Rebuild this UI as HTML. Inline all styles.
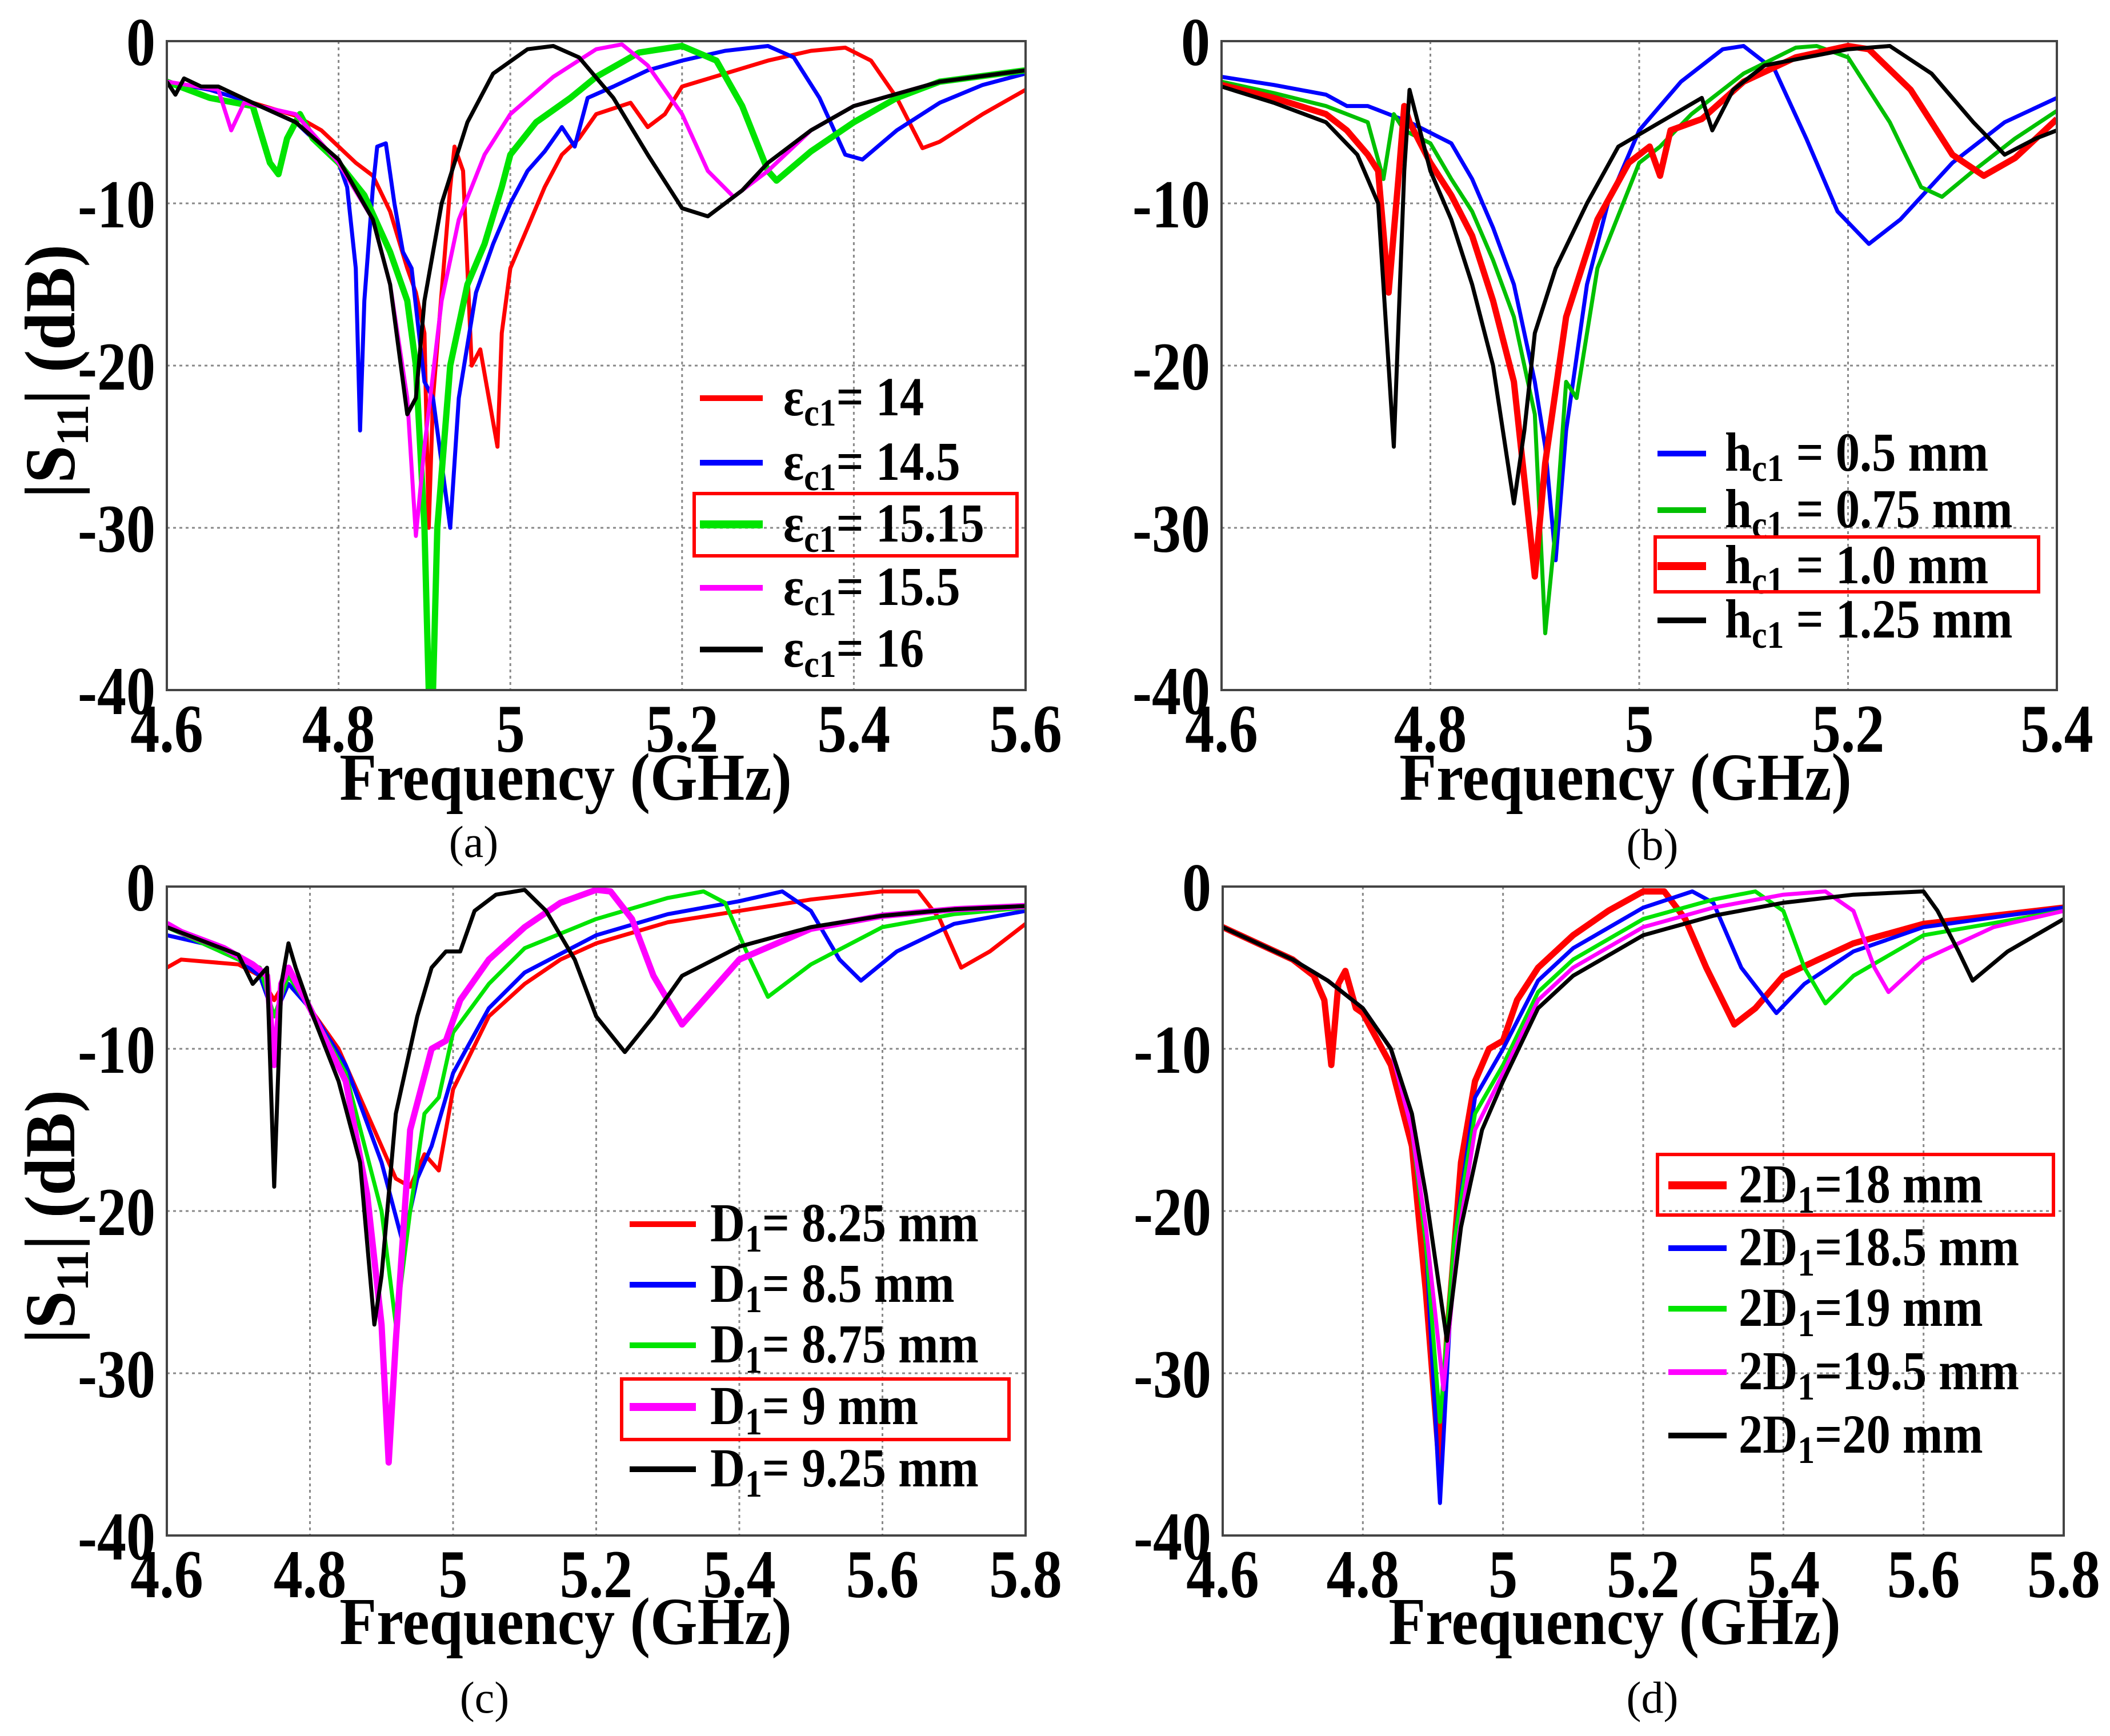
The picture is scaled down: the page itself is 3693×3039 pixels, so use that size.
<!DOCTYPE html>
<html><head><meta charset="utf-8"><title>S11 parametric study</title>
<style>
html,body{margin:0;padding:0;background:#fff;}
svg{display:block;font-family:"Liberation Serif",serif;}
</style></head>
<body>
<svg id="fig" xmlns="http://www.w3.org/2000/svg" width="3693" height="3039" viewBox="0 0 3693 3039"></svg>
<script>
// ---------- DATA ----------
// Panel (a)
const a1_f=[4.6,4.65,4.7,4.75,4.78,4.8,4.82,4.84,4.86,4.88,4.89,4.9,4.905,4.91,4.93,4.935,4.945,4.955,4.965,4.975,4.985,4.99,5.0,5.02,5.04,5.06,5.08,5.1,5.14,5.16,5.18,5.2,5.25,5.3,5.35,5.39,5.42,5.45,5.48,5.5,5.55,5.6];
const a1_v=[-2.5,-3,-3.8,-4.6,-5.5,-6.5,-7.5,-8.3,-10.5,-14,-15.5,-18,-30,-22,-9,-6.5,-8,-20,-19,-22,-25,-18,-14,-11.5,-9,-7,-6,-4.5,-3.8,-5.3,-4.5,-2.8,-2,-1.2,-0.6,-0.4,-1.2,-3.5,-6.6,-6.2,-4.5,-3];
const a2_f=[4.6,4.65,4.7,4.75,4.8,4.81,4.82,4.825,4.83,4.84,4.845,4.855,4.865,4.875,4.885,4.9,4.91,4.93,4.94,4.96,4.98,5.0,5.02,5.04,5.06,5.075,5.09,5.12,5.16,5.2,5.25,5.3,5.33,5.36,5.39,5.41,5.45,5.5,5.55,5.6];
const a2_v=[-2.5,-3,-3.8,-5,-7.5,-9,-14,-24,-16,-9,-6.5,-6.3,-10,-13,-14,-21,-22,-30,-22,-15.5,-12.5,-10,-8,-6.8,-5.3,-6.5,-3.5,-2.8,-1.8,-1.2,-0.6,-0.3,-1,-3.5,-7,-7.3,-5.5,-3.8,-2.7,-2];
const a3_f=[4.6,4.65,4.7,4.72,4.73,4.74,4.755,4.77,4.8,4.83,4.86,4.88,4.89,4.9,4.905,4.91,4.915,4.93,4.95,4.97,4.99,5.0,5.03,5.07,5.1,5.15,5.2,5.24,5.27,5.3,5.31,5.35,5.4,5.45,5.5,5.6];
const a3_v=[-2.5,-3.5,-4,-7.5,-8.2,-6,-4.5,-6,-7.5,-9.5,-13,-16,-20,-30,-40,-40,-30,-20,-15,-12.5,-9,-7,-5,-3.5,-2.2,-0.7,-0.3,-1.2,-4,-8,-8.6,-6.8,-5,-3.5,-2.5,-1.8];
const a4_f=[4.6,4.66,4.675,4.69,4.75,4.8,4.84,4.86,4.88,4.89,4.9,4.92,4.94,4.97,5.0,5.05,5.1,5.13,5.16,5.2,5.23,5.26,5.3,5.35,5.4,5.5,5.6];
const a4_v=[-2.5,-3,-5.5,-3.8,-4.5,-7.5,-11,-15,-22,-30.5,-25,-16,-11,-7,-4.5,-2.2,-0.5,-0.2,-1.5,-4.5,-8,-9.6,-8,-5.5,-4,-2.5,-1.8];
const a5_f=[4.6,4.61,4.62,4.64,4.66,4.7,4.75,4.8,4.84,4.86,4.88,4.89,4.9,4.92,4.95,4.98,5.02,5.05,5.08,5.12,5.16,5.2,5.23,5.27,5.3,5.35,5.4,5.5,5.6];
const a5_v=[-2.5,-3.3,-2.3,-2.8,-2.8,-3.8,-5,-7.3,-11,-15,-23,-22,-16,-10,-5,-2,-0.5,-0.3,-1,-3.5,-7,-10.3,-10.8,-9.2,-7.5,-5.5,-4,-2.5,-1.8];
// Panel (b)
const b1_f=[4.6,4.65,4.7,4.72,4.74,4.78,4.82,4.84,4.86,4.88,4.89,4.9,4.91,4.92,4.93,4.95,4.97,5.0,5.04,5.08,5.1,5.13,5.16,5.19,5.22,5.25,5.3,5.35,5.4];
const b1_v=[-2.2,-2.7,-3.3,-4,-4,-5,-6.3,-8.5,-11.5,-15,-18,-21,-25,-32,-24,-15,-10,-5.5,-2.5,-0.5,-0.3,-1.8,-6,-10.5,-12.5,-11,-7.5,-5,-3.5];
const b2_f=[4.6,4.65,4.7,4.74,4.755,4.765,4.775,4.8,4.82,4.84,4.86,4.88,4.9,4.91,4.92,4.93,4.94,4.96,5.0,5.02,5.05,5.1,5.15,5.17,5.2,5.24,5.27,5.29,5.32,5.36,5.4];
const b2_v=[-2.5,-3.2,-4,-5,-8.5,-4.5,-5.5,-6.3,-8.5,-10.5,-13.5,-17,-23,-36.5,-30,-21,-22,-14,-7.5,-6.5,-4.5,-2,-0.4,-0.3,-1,-5,-9,-9.6,-8,-6,-4.3];
const b3_f=[4.6,4.65,4.7,4.72,4.74,4.75,4.76,4.77,4.775,4.78,4.8,4.82,4.84,4.86,4.88,4.9,4.91,4.93,4.96,4.99,5.01,5.02,5.03,5.06,5.1,5.15,5.2,5.22,5.26,5.3,5.33,5.36,5.4];
const b3_v=[-2.7,-3.5,-4.5,-5.5,-7,-8,-15.5,-8,-4,-5,-7.5,-9.5,-12,-16,-21,-33,-26,-17,-11,-7.5,-6.5,-8.3,-5.5,-4.8,-2.5,-1,-0.3,-0.5,-3,-7,-8.3,-7.2,-4.8];
const b4_f=[4.6,4.65,4.7,4.73,4.75,4.765,4.775,4.78,4.79,4.8,4.82,4.84,4.86,4.88,4.89,4.9,4.92,4.95,4.98,5.02,5.06,5.07,5.09,5.12,5.2,5.24,5.28,5.32,5.35,5.38,5.4];
const b4_v=[-2.8,-3.8,-5,-7,-10,-25,-8,-3,-5.5,-8,-11,-15,-20,-28.5,-24,-18,-14,-10,-6.5,-5,-3.5,-5.5,-3,-1.5,-0.5,-0.3,-2,-5,-7,-6,-5.5];
// Panel (c)
const c1_f=[4.6,4.62,4.7,4.73,4.75,4.77,4.8,4.84,4.88,4.92,4.94,4.96,4.98,5.0,5.05,5.1,5.15,5.2,5.3,5.4,5.5,5.6,5.65,5.68,5.71,5.75,5.8];
const c1_v=[-5,-4.5,-4.8,-5.5,-7,-5.5,-7.5,-10,-14,-18,-18.5,-16.5,-17.5,-12.5,-8,-6,-4.5,-3.5,-2.2,-1.5,-0.8,-0.3,-0.3,-2,-5,-4,-2.3];
const c2_f=[4.6,4.65,4.7,4.73,4.75,4.77,4.8,4.85,4.9,4.93,4.95,4.97,5.0,5.05,5.1,5.2,5.3,5.4,5.46,5.5,5.54,5.57,5.62,5.7,5.8];
const c2_v=[-3,-3.5,-4.5,-5.5,-8,-6,-7.5,-11,-17,-22,-18,-16,-11.5,-7.5,-5.3,-3,-1.7,-0.9,-0.3,-1.5,-4.5,-5.8,-4,-2.3,-1.5];
const c3_f=[4.6,4.7,4.73,4.75,4.77,4.8,4.85,4.9,4.92,4.94,4.96,4.98,5.0,5.05,5.1,5.2,5.3,5.35,5.38,5.41,5.44,5.5,5.6,5.7,5.8];
const c3_v=[-2.5,-4.5,-5,-8,-5.5,-7.5,-11.5,-20,-27,-20,-14,-13,-9,-6,-3.8,-2,-0.7,-0.3,-1,-4,-6.8,-4.8,-2.5,-1.7,-1.3];
const c4_f=[4.6,4.62,4.68,4.72,4.74,4.75,4.76,4.77,4.8,4.85,4.88,4.9,4.91,4.92,4.94,4.97,4.99,5.01,5.05,5.1,5.15,5.2,5.22,5.25,5.28,5.32,5.36,5.4,5.5,5.6,5.7,5.8];
const c4_v=[-2.3,-2.8,-3.8,-4.8,-5.5,-11,-6,-5,-7.5,-12,-19,-27,-35.5,-28,-15,-10,-9.5,-7,-4.5,-2.5,-1,-0.2,-0.3,-2,-5.5,-8.5,-6.5,-4.5,-2.6,-1.8,-1.4,-1.2];
const c5_f=[4.6,4.7,4.72,4.74,4.75,4.76,4.77,4.78,4.8,4.84,4.87,4.89,4.9,4.92,4.95,4.97,4.99,5.01,5.03,5.06,5.1,5.13,5.17,5.2,5.24,5.28,5.32,5.4,5.5,5.6,5.7,5.8];
const c5_v=[-2.5,-4.2,-6,-5,-18.5,-6,-3.5,-5,-7.5,-12,-17,-27,-24,-14,-8,-5,-4,-4,-1.5,-0.5,-0.2,-1.5,-4.5,-8,-10.2,-8,-5.5,-3.7,-2.5,-1.8,-1.4,-1.2];
// Panel (d)
const d1_f=[4.6,4.65,4.7,4.73,4.745,4.755,4.765,4.775,4.79,4.8,4.84,4.87,4.89,4.91,4.92,4.94,4.96,4.98,5.0,5.02,5.05,5.1,5.15,5.2,5.23,5.26,5.29,5.33,5.36,5.4,5.5,5.6,5.8];
const d1_v=[-2.5,-3.5,-4.5,-5.5,-7,-11,-6,-5.2,-7.5,-7.8,-11,-16,-25,-36,-28,-17,-12,-10,-9.5,-7,-5,-3,-1.5,-0.3,-0.3,-2,-5,-8.5,-7.5,-5.5,-3.5,-2.3,-1.3];
const d2_f=[4.6,4.65,4.7,4.75,4.8,4.84,4.87,4.89,4.91,4.93,4.96,5.0,5.05,5.1,5.2,5.27,5.3,5.34,5.39,5.43,5.5,5.6,5.8];
const d2_v=[-2.5,-3.5,-4.5,-5.8,-7.5,-10,-15,-22,-38,-22,-13,-10,-5.8,-3.8,-1.3,-0.3,-1,-5,-7.8,-6,-4,-2.5,-1.3];
const d3_f=[4.6,4.65,4.7,4.75,4.8,4.84,4.87,4.89,4.91,4.93,4.96,5.0,5.05,5.1,5.2,5.3,5.36,5.4,5.43,5.46,5.5,5.6,5.8];
const d3_v=[-2.5,-3.5,-4.5,-5.8,-7.5,-10,-15,-22,-33,-22,-14,-11,-6.5,-4.5,-2,-0.8,-0.3,-1.5,-5,-7.2,-5.5,-3,-1.5];
const d4_f=[4.6,4.65,4.7,4.75,4.8,4.84,4.87,4.89,4.915,4.935,4.96,5.0,5.05,5.1,5.2,5.3,5.4,5.46,5.5,5.53,5.55,5.6,5.7,5.8];
const d4_v=[-2.5,-3.5,-4.5,-5.8,-7.5,-10,-15,-21,-31,-22,-15,-11.5,-7,-5,-2.5,-1.3,-0.5,-0.3,-1.5,-5,-6.5,-4.5,-2.5,-1.5];
const d5_f=[4.6,4.65,4.7,4.75,4.8,4.84,4.87,4.89,4.92,4.94,4.97,5.0,5.05,5.1,5.2,5.3,5.4,5.5,5.6,5.62,5.65,5.67,5.72,5.8];
const d5_v=[-2.5,-3.5,-4.5,-5.8,-7.5,-10,-14,-19,-28,-21,-15,-12,-7.5,-5.5,-3,-1.8,-1,-0.5,-0.3,-1.5,-4,-5.8,-4,-2];
// ticks
const yTicks=[0,-10,-20,-30,-40];
const xTicksA=[4.6,4.8,5,5.2,5.4,5.6];
const xTicksB=[4.6,4.8,5,5.2,5.4];
const xTicksC=[4.6,4.8,5,5.2,5.4,5.6,5.8];
const xTicksD=[4.6,4.8,5,5.2,5.4,5.6,5.8];

// ---------- DRAW ----------
const NS='http://www.w3.org/2000/svg';
const svg=document.getElementById('fig');
function mk(tag,attrs,parent){const e=document.createElementNS(NS,tag);for(const k in attrs)e.setAttribute(k,attrs[k]);(parent||svg).appendChild(e);return e;}
function txt(parent,x,y,sx,attrs){attrs.transform='translate('+x+','+y+') scale('+sx+',1)';attrs.x=0;attrs.y=0;return mk('text',attrs,parent);}

function panel(p){
  const g=mk('g',{});
  
  
  const xs=v=>p.L+(v-p.x0)/(p.x1-p.x0)*(p.R-p.L);
  const ys=v=>p.T+(0-v)/40*(p.B-p.T);
  p.xt.forEach(t=>{
    const l=mk('line',{x1:xs(t),x2:xs(t),y1:p.T,y2:p.B,stroke:'#888','stroke-width':3,'stroke-dasharray':'5 6'},g);
    
    
    const tx=txt(g,xs(t),p.B+108,0.85,{'text-anchor':'middle','font-size':120,'font-weight':'bold',fill:'#000'});
    tx.textContent=String(t);
    
    
  });
  yTicks.forEach(t=>{
    const l=mk('line',{x1:p.L,x2:p.R,y1:ys(t),y2:ys(t),stroke:'#888','stroke-width':3,'stroke-dasharray':'5 6'},g);
    
    
    const tx=txt(g,p.L-20,ys(t)+42,0.85,{'text-anchor':'end','font-size':120,'font-weight':'bold',fill:'#000'});
    tx.textContent=String(t);
    
    
  });
  const cid='clip'+p.id;
  const cp=mk('clipPath',{id:cid},g);
  mk('rect',{x:p.L,y:p.T-10,width:p.R-p.L,height:p.B-p.T+10},cp);
  const sg=mk('g',{'clip-path':'url(#'+cid+')'},g);
  p.series.forEach(s=>{
    const d=s.f.map((f,i)=>(i?'L':'M')+xs(f).toFixed(1)+' '+ys(s.v[i]).toFixed(1)).join(' ');
    const path=mk('path',{d:d,fill:'none',stroke:s.c,'stroke-width':s.w,'stroke-linejoin':'round'},sg);
    
    
  });
  const fr=mk('rect',{x:p.L,y:p.T,width:p.R-p.L,height:p.B-p.T,fill:'none',stroke:'#444','stroke-width':4},g);
  
  
  const xt=txt(g,p.xtx,p.xty,0.9,{'text-anchor':'middle','font-size':118,'font-weight':'bold',fill:'#000'});
  xt.textContent='Frequency (GHz)';
  
  
  const yt=mk('text',{x:0,y:0,transform:'translate(130,'+((p.T+p.B)/2+10)+') rotate(-90) scale(0.95,1)','text-anchor':'middle','font-size':125,'font-weight':'bold',fill:'#000'},g);
  yt.innerHTML='|S<tspan font-size="80" dy="24">11</tspan><tspan dy="-24">| (dB)</tspan>';
  
  
  const cap=mk('text',{x:p.capx,y:p.capy,'text-anchor':'middle','font-size':78,fill:'#000'},g);
  cap.textContent='('+p.id+')';
  
  
  p.series.forEach((s,i)=>{
    const y=p.legY[i];
    const ln=mk('line',{x1:p.legX1,x2:p.legX2,y1:y,y2:y,stroke:s.c,'stroke-width':s.w+3},g);
    
    
    const t=txt(g,p.legT,y+30,0.88,{'font-size':96,'font-weight':'bold',fill:'#000'});
    t.innerHTML=s.label;
    
    
  });
  const bx=mk('rect',{x:p.box[0],y:p.box[1],width:p.box[2]-p.box[0],height:p.box[3]-p.box[1],fill:'none',stroke:'#ff0000','stroke-width':6},g);
  
  
}
const R='#ff0000',B='#0000ff',G='#00e400',M='#ff00ff',K='#000000';
const sub=(a,b)=>a+'<tspan font-size="68" dy="18">'+b+'</tspan><tspan dy="-18">';
const eps=v=>sub('ε','c1')+'= '+v+'</tspan>';
const hc=v=>sub('h','c1')+' = '+v+' mm</tspan>';
const D1=v=>sub('D','1')+'= '+v+' mm</tspan>';
const D2=v=>sub('2D','1')+'='+v+' mm</tspan>';
const TW=7, HW=11;

panel({id:'a',L:292,R:1795,T:72,B:1208,x0:4.6,x1:5.6,xt:xTicksA,xtx:990,xty:1400,capx:829,capy:1500,
  legX1:1225,legX2:1335,legT:1371,legY:[697,810,918,1029,1137],box:[1215,864,1780,973],
  series:[{n:'eps-14',f:a1_f,v:a1_v,c:R,w:TW,label:eps('14')},{n:'eps-14.5',f:a2_f,v:a2_v,c:B,w:TW,label:eps('14.5')},
  {n:'eps-15.15',f:a3_f,v:a3_v,c:G,w:HW,label:eps('15.15')},{n:'eps-15.5',f:a4_f,v:a4_v,c:M,w:TW,label:eps('15.5')},
  {n:'eps-16',f:a5_f,v:a5_v,c:K,w:TW,label:eps('16')}]});
panel({id:'b',L:2138,R:3600,T:72,B:1208,x0:4.6,x1:5.4,xt:xTicksB,xtx:2845,xty:1400,capx:2892,capy:1505,
  legX1:2901,legX2:2986,legT:3019,legY:[794,893,991,1086],box:[2897,940,3568,1036],
  series:[{n:'hc1-0.5',f:b1_f,v:b1_v,c:B,w:TW,label:hc('0.5')},{n:'hc1-0.75',f:b2_f,v:b2_v,c:'#00c000',w:TW,label:hc('0.75')},
  {n:'hc1-1.0',f:b3_f,v:b3_v,c:R,w:HW,label:hc('1.0')},{n:'hc1-1.25',f:b4_f,v:b4_v,c:K,w:TW,label:hc('1.25')}]});
panel({id:'c',L:292,R:1795,T:1552,B:2688,x0:4.6,x1:5.8,xt:xTicksC,xtx:990,xty:2878,capx:848,capy:2998,
  legX1:1102,legX2:1218,legT:1243,legY:[2143,2249,2355,2463,2572],box:[1088,2414,1766,2520],
  series:[{n:'d1-8.25',f:c1_f,v:c1_v,c:R,w:TW,label:D1('8.25')},{n:'d1-8.5',f:c2_f,v:c2_v,c:B,w:TW,label:D1('8.5')},
  {n:'d1-8.75',f:c3_f,v:c3_v,c:G,w:TW,label:D1('8.75')},{n:'d1-9',f:c4_f,v:c4_v,c:M,w:HW,label:D1('9')},
  {n:'d1-9.25',f:c5_f,v:c5_v,c:K,w:TW,label:D1('9.25')}]});
panel({id:'d',L:2140,R:3612,T:1552,B:2688,x0:4.6,x1:5.8,xt:xTicksD,xtx:2826,xty:2878,capx:2892,capy:2998,
  legX1:2920,legX2:3022,legT:3043,legY:[2075,2185,2291,2402,2513],box:[2901,2021,3594,2127],
  series:[{n:'2d1-18',f:d1_f,v:d1_v,c:R,w:HW,label:D2('18')},{n:'2d1-18.5',f:d2_f,v:d2_v,c:B,w:TW,label:D2('18.5')},
  {n:'2d1-19',f:d3_f,v:d3_v,c:G,w:TW,label:D2('19')},{n:'2d1-19.5',f:d4_f,v:d4_v,c:M,w:TW,label:D2('19.5')},
  {n:'2d1-20',f:d5_f,v:d5_v,c:K,w:TW,label:D2('20')}]});
</script>
</body></html>
